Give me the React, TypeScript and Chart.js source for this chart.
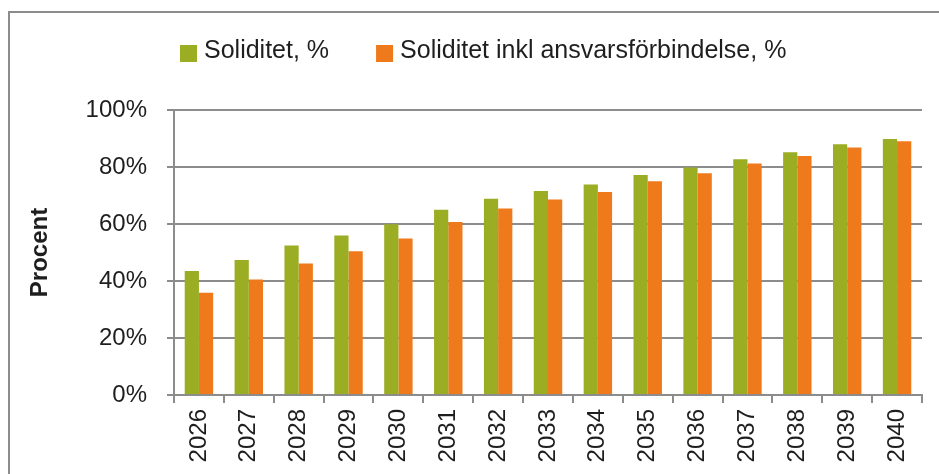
import React, { useEffect, useRef } from "react";
import { Chart, registerables } from "chart.js";

Chart.register(...registerables);

const categories = ["2026", "2027", "2028", "2029", "2030", "2031", "2032", "2033", "2034", "2035", "2036", "2037", "2038", "2039", "2040"];
const soliditet = [43.5, 47.4, 52.5, 56.0, 59.9, 65.0, 68.9, 71.6, 73.9, 77.2, 79.8, 82.7, 85.2, 88.0, 89.8];
const soliditetInkl = [35.9, 40.5, 46.1, 50.4, 54.9, 60.7, 65.4, 68.6, 71.2, 75.0, 77.8, 81.2, 83.9, 86.8, 89.0];
const seriesLabels = ["Soliditet, %", "Soliditet inkl ansvarsförbindelse, %"];
const yTitle = "Procent";

const FONT = "'Liberation Sans', Arial, sans-serif";
const GREEN = "#9AAD23";
const ORANGE = "#EF7A1B";
const GRID = "#8c8c8c";
const TEXT = "#1e1e1e";

const framePlugin = {
  id: "frame",
  beforeDraw(chart: any) {
    const ctx = chart.ctx;
    ctx.save();
    ctx.fillStyle = "#ffffff";
    ctx.fillRect(0, 0, chart.width, chart.height);
    ctx.strokeStyle = GRID;
    ctx.lineWidth = 2;
    ctx.beginPath();
    ctx.moveTo(9, chart.height);
    ctx.lineTo(9, 12);
    ctx.lineTo(chart.width, 12);
    ctx.stroke();
    ctx.restore();
  },
};

const legendPlugin = {
  id: "customLegend",
  afterDraw(chart: any) {
    const ctx = chart.ctx;
    ctx.save();
    ctx.font = `25px ${FONT}`;
    ctx.textBaseline = "alphabetic";
    ctx.textAlign = "left";
    let x = 180;
    const boxTop = 45;
    const box = 17;
    chart.data.datasets.forEach((ds: any) => {
      ctx.fillStyle = ds.backgroundColor;
      ctx.fillRect(x, boxTop, box, box);
      ctx.fillStyle = TEXT;
      const tx = x + box + 7;
      ctx.fillText(ds.label, tx, 58);
      x = tx + ctx.measureText(ds.label).width + 47;
    });
    ctx.restore();
  },
};

export default function App() {
  const ref = useRef<HTMLCanvasElement>(null);
  useEffect(() => {
    if (!ref.current) return;
    const chart = new Chart(ref.current, {
      type: "bar",
      data: {
        labels: categories,
        datasets: [
          { label: seriesLabels[0], data: soliditet, backgroundColor: GREEN, borderWidth: 0 },
          { label: seriesLabels[1], data: soliditetInkl, backgroundColor: ORANGE, borderWidth: 0 },
        ],
      },
      options: {
        animation: false,
        responsive: false,
        maintainAspectRatio: false,
        devicePixelRatio: 1,
        layout: { padding: { top: 110, left: 0, right: 17, bottom: 0 } },
        plugins: {
          legend: { display: false },
          tooltip: { enabled: false },
        },
        datasets: {
          bar: { categoryPercentage: 0.57, barPercentage: 1 },
        },
        scales: {
          x: {
            grid: {
              offset: true,
              drawOnChartArea: false,
              drawTicks: true,
              tickLength: 8,
              color: GRID,
              lineWidth: 2,
            },
            border: { display: true, color: GRID, width: 2 },
            ticks: {
              minRotation: 90,
              maxRotation: 90,
              autoSkip: false,
              padding: 6,
              color: TEXT,
              font: { family: FONT, size: 24 },
            },
            afterFit(scale: any) {
              scale.height = 79;
            },
          },
          y: {
            min: 0,
            max: 100,
            grid: {
              color: GRID,
              lineWidth: 2,
              drawTicks: true,
              tickLength: 7,
            },
            border: { display: true, color: GRID, width: 2 },
            ticks: {
              stepSize: 20,
              padding: 20,
              color: TEXT,
              font: { family: FONT, size: 24 },
              callback: (v: any) => `${v}%`,
            },
            title: {
              display: true,
              text: yTitle,
              color: TEXT,
              padding: { top: 26, bottom: 0 },
              font: { family: FONT, size: 24, weight: "bold" },
            },
            afterFit(scale: any) {
              scale.width = 174;
            },
          },
        },
      },
      plugins: [framePlugin, legendPlugin],
    });
    return () => chart.destroy();
  }, []);
  return (
    <div style={{ position: "absolute", left: 0, top: 0, width: 939, height: 474 }}>
      <canvas ref={ref} width={939} height={474} style={{ width: 939, height: 474, display: "block" }} />
    </div>
  );
}
